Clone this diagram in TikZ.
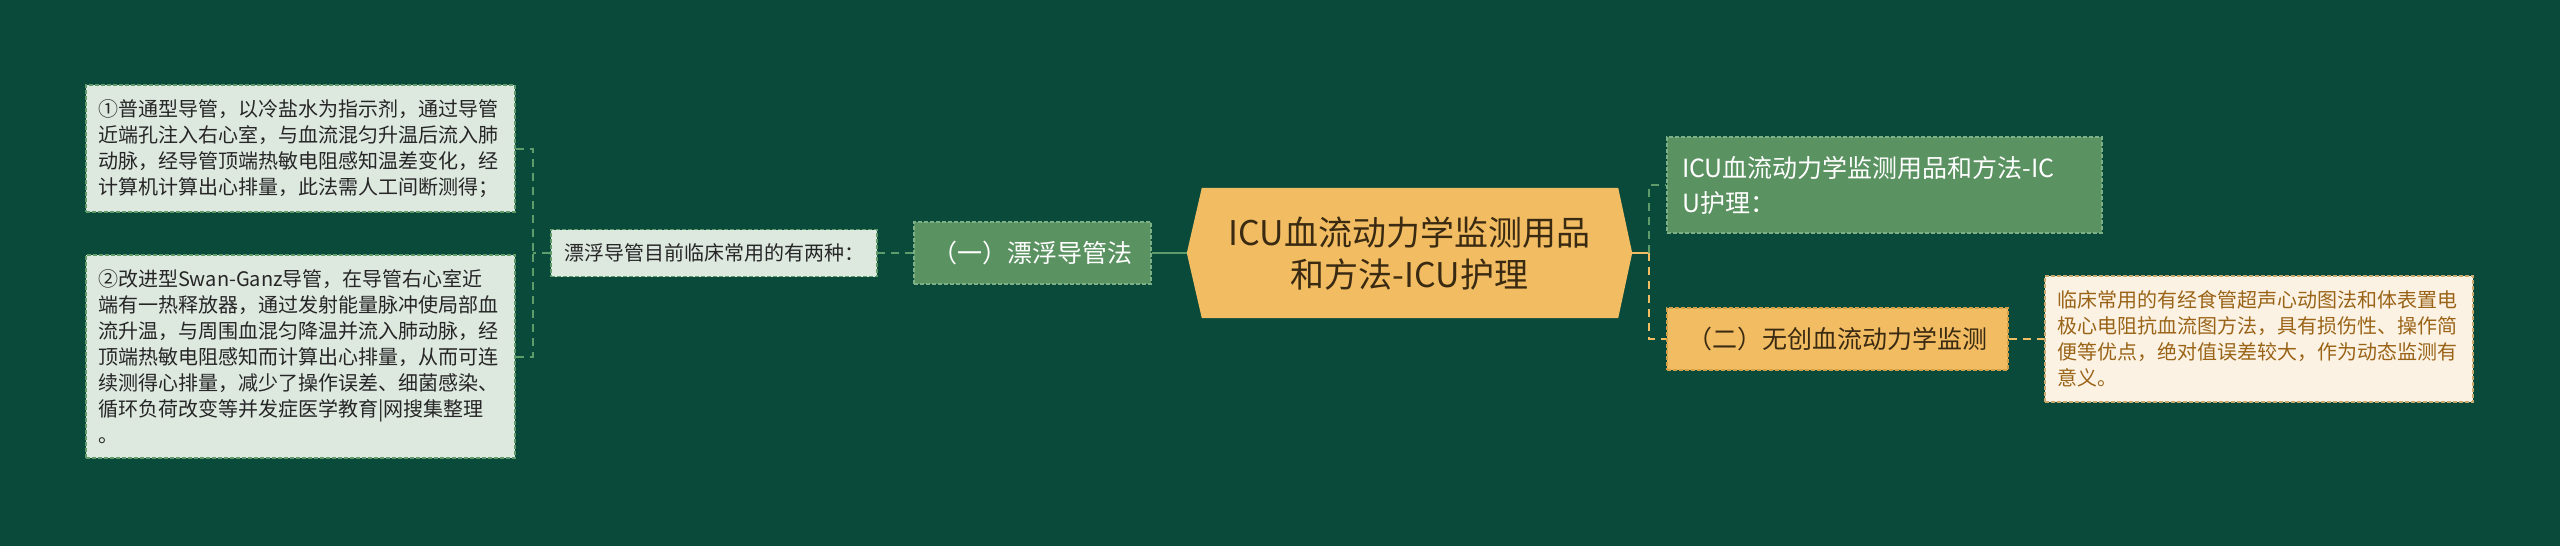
\documentclass[tikz,border=0pt]{standalone}
\usepackage{fontspec}
\setmainfont{Noto Sans CJK SC}
\usetikzlibrary{backgrounds}
\definecolor{bgdark}{HTML}{0A4A3A}
\definecolor{leaffill}{HTML}{DDE8DF}
\definecolor{leafline}{HTML}{5E9A6A}
\definecolor{subfill}{HTML}{5B9261}
\definecolor{subline}{HTML}{7DB087}
\definecolor{rootfill}{HTML}{F1BC62}
\definecolor{roottext}{HTML}{3A2A12}
\definecolor{orangeline}{HTML}{D2A048}
\definecolor{notefill}{HTML}{FCF2E3}
\definecolor{noteline}{HTML}{C9A86E}
\definecolor{notetext}{HTML}{9A6418}
\definecolor{greenlink}{HTML}{5F9C6C}
\begin{document}
\begin{tikzpicture}[x=1pt,y=-1pt,
    leaf/.style={draw=leafline,fill=leaffill,dash pattern=on 4pt off 2pt,line width=1.2pt,text=black!85,font=\fontsize{20}{26}\selectfont,align=left,text width=405pt,inner xsep=12pt},
    mid/.style={draw=leafline,fill=leaffill,dash pattern=on 4pt off 2pt,line width=1.2pt,text=black!85,font=\fontsize{20}{26}\selectfont,minimum width=326pt,minimum height=47pt},
    sub/.style={draw=subline,fill=subfill,dash pattern=on 4pt off 2pt,line width=1.2pt,text=white,font=\fontsize{25}{35}\selectfont},
    main/.style={text=roottext,font=\fontsize{34}{42}\selectfont,align=center,minimum width=445pt,minimum height=130pt},
    orange/.style={draw=orangeline,fill=rootfill,dash pattern=on 4pt off 2pt,line width=1.2pt,text=roottext,font=\fontsize{25}{35}\selectfont,minimum width=341pt,minimum height=62pt},
    note/.style={draw=noteline,fill=notefill,dash pattern=on 4pt off 2pt,line width=1.2pt,text=notetext,font=\fontsize{20}{26}\selectfont,align=left,text width=404pt,inner xsep=12pt,minimum height=126pt},
    link/.style={draw=greenlink,line width=2pt},
    dlink/.style={draw=greenlink,line width=2pt,dash pattern=on 8pt off 6pt},
    ylink/.style={draw=rootfill,line width=2pt},
    ydlink/.style={draw=rootfill,line width=2pt,dash pattern=on 8pt off 6pt}]
    \useasboundingbox (0,0) rectangle (2560,546);

    \node[main] at (1409.5,253) (root) {ICU血流动力学监测用品\\和方法-ICU护理};

    \node[sub,minimum width=237pt,minimum height=62pt] at (1032.5,253) (one) {（一）漂浮导管法};
    \node[mid] at (714,253) (how) {漂浮导管目前临床常用的有两种：};

    \node[leaf,minimum height=127pt] at (300.5,148.5) (cold) {①普通型导管，以冷盐水为指示剂，通过导管\\近端孔注入右心室，与血流混匀升温后流入肺\\动脉，经导管顶端热敏电阻感知温差变化，经\\计算机计算出心排量，此法需人工间断测得；};
    \node[leaf,minimum height=203pt] at (300.5,356.5) (swan) {②改进型Swan-Ganz导管，在导管右心室近\\端有一热释放器，通过发射能量脉冲使局部血\\流升温，与周围血混匀降温并流入肺动脉，经\\顶端热敏电阻感知而计算出心排量，从而可连\\续测得心排量，减少了操作误差、细菌感染、\\循环负荷改变等并发症医学教育|网搜集整理\\。};

    \node[sub,align=left,text width=405pt,inner xsep=15pt,minimum height=96pt] at (1884.5,185) (title) {ICU血流动力学监测用品和方法-IC\\U护理：};
    \node[orange] at (1837.5,339) (two) {（二）无创血流动力学监测};
    \node[note] at (2259,339) (echo) {临床常用的有经食管超声心动图法和体表置电\\极心电阻抗血流图方法，具有损伤性、操作简\\便等优点，绝对值误差较大，作为动态监测有\\意义。};

    \begin{scope}[on background layer]
        \fill[bgdark] (0,0) rectangle (2560,546);
        \fill[rootfill] (root.west) -- ([xshift=15pt]root.north west) -- ([xshift=-14pt]root.north east) -- (root.east) -- ([xshift=-14pt]root.south east) -- ([xshift=15pt]root.south west) -- cycle;
    \end{scope}

    \coordinate (lj) at (533,253);
    \coordinate (rj) at (1649,253);

    \draw[link] (root.west) -- (one.east);
    \draw[dlink] (one.west) -- (how.east);
    \draw[dlink] (how.west) -- (lj);
    \draw[dlink] (cold.east) -| (lj);
    \draw[dlink] (swan.east) -| (lj);

    \draw[ylink] (root.east) -- (rj);
    \draw[dlink] (rj) |- (title.west);
    \draw[ydlink] (rj) |- (two.west);
    \draw[ydlink] (two.east) -- (echo.west);
\end{tikzpicture}
\end{document}
